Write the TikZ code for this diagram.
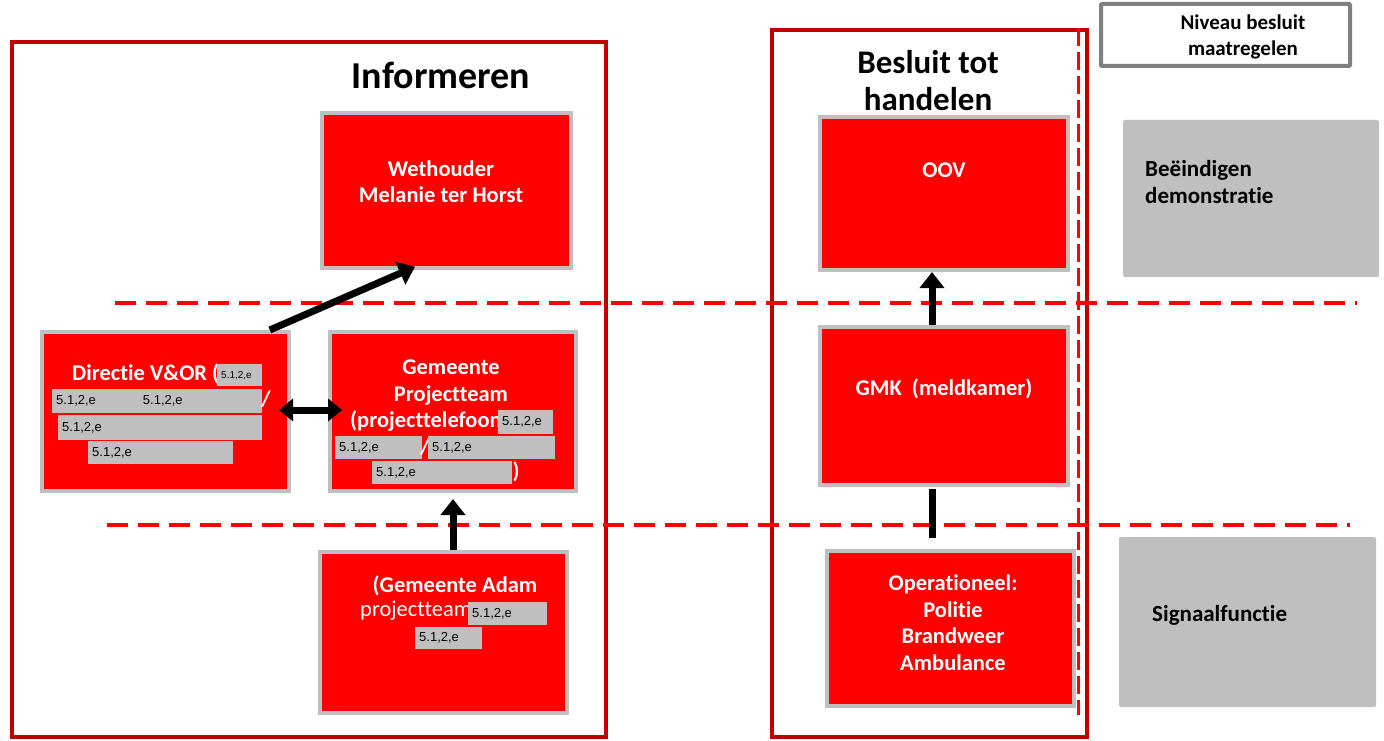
\documentclass[tikz,border=0pt]{standalone}
\usepackage{fontspec}
\setmainfont{Carlito}[Ligatures=NoCommon]
\newfontfamily\redactfont{Liberation Sans}
\usepackage{xcolor}
\usetikzlibrary{arrows.meta}

\definecolor{framered}{HTML}{C00000}
\definecolor{boxred}{HTML}{FF0000}
\definecolor{boxgray}{HTML}{BFBFBF}
\definecolor{levelgray}{HTML}{808080}

\tikzset{
  frame/.style={draw=framered, line width=4pt},
  redbox/.style={draw=boxgray, fill=boxred, line width=4pt, inner sep=0pt},
  sidebox/.style={fill=boxgray, rounded corners=2pt, inner sep=0pt},
  boxtext/.style={text=white, font=\bfseries\fontsize{22.5}{26.5}\selectfont, align=center, inner sep=0pt},
  titletext/.style={text=black, font=\bfseries\fontsize{33}{37}\selectfont, align=center, inner sep=0pt},
  sidetext/.style={text=black, font=\bfseries\fontsize{23}{27}\selectfont, align=left, inner sep=0pt},
  redact/.style={fill=boxgray, anchor=north west, inner xsep=4pt, inner ysep=0pt,
                 font=\redactfont\fontsize{13}{13}\selectfont, align=left},
  level/.style={draw=red, line width=4pt, dash pattern=on 21pt off 10pt},
  bigarrow/.style={line width=7pt, -{Triangle[length=16pt,width=24pt]}},
  bothways/.style={line width=7pt, {Triangle[length=14pt,width=22pt]}-{Triangle[length=14pt,width=22pt]}},
}

\begin{document}
\begin{tikzpicture}[x=1pt, y=-1pt]
  \useasboundingbox (0,0) rectangle (1384,741);

  % === Frames ===
  \draw[frame] (12,42) rectangle (606,737);
  \draw[frame] (772,30) rectangle (1087,737);
  \node[titletext, font=\bfseries\fontsize{38}{42}\selectfont] (inform) at (441,75) {Informeren};
  \node[titletext] (besluit) at (928,81) {Besluit tot\\handelen};

  % === Level lines ===
  \draw[level] (115,303) -- (1357,303);
  \draw[level] (107,525) -- (1350,525);
  \draw[draw=red, line width=3pt, dash pattern=on 18pt off 6pt] (1078,28) -- (1078,715);

  % === Right column (legend) ===
  \node[draw=levelgray, fill=white, line width=4pt, rounded corners=1pt,
        minimum width=249pt, minimum height=62pt] (niveau) at (1225.5,35) {};
  \node[sidetext, align=center, font=\bfseries\fontsize{21}{26}\selectfont] (niveautext) at (1243,37) {Niveau besluit\\maatregelen};
  \node[sidebox, minimum width=256pt, minimum height=157pt] (stop) at (1251,198.5) {};
  \node[sidetext, anchor=west] (stoptext) at (1145,182) {Beëindigen\\demonstratie};
  \node[sidebox, minimum width=257pt, minimum height=170pt] (signal) at (1247.5,622) {};
  \node[sidetext, anchor=west] (signaltext) at (1152,615) {Signaalfunctie};

  % === Informeren column ===
  \node[redbox, minimum width=249pt, minimum height=155pt] (wet) at (446.5,190.5) {};
  \node[boxtext] (wettext) at (441,181.5) {Wethouder\\Melanie ter Horst};

  \node[redbox, minimum width=247pt, minimum height=159pt] (dir) at (165.5,411.5) {};
  \node[boxtext, anchor=west] (dirtext) at (72,374) {Directie V\&OR (};
  \node[redact, minimum width=45pt, minimum height=22pt, text width=37pt,
        font=\redactfont\fontsize{10}{10}\selectfont] (r1) at (217,364) {5.1,2,e};
  \node[redact, minimum width=210pt, minimum height=24pt, text width=202pt] (r2) at (52,389) {5.1,2,e\hspace*{47pt}5.1,2,e};
  \node[boxtext] (slash1) at (266,399) {/};
  \node[redact, minimum width=204pt, minimum height=25pt, text width=196pt] (r3) at (58,415) {5.1,2,e};
  \node[redact, minimum width=145pt, minimum height=23pt, text width=137pt] (r4) at (88,441) {5.1,2,e};

  \node[redbox, minimum width=246pt, minimum height=159pt] (proj) at (453,411.5) {};
  \node[boxtext] (projtext) at (451,382.5) {Gemeente\\Projectteam};
  \node[boxtext, anchor=west] (phone) at (350,421) {(projecttelefoon};
  \node[redact, minimum width=55pt, minimum height=24pt, text width=47pt] (r5) at (498,410) {5.1,2,e};
  \node[redact, minimum width=87pt, minimum height=23pt, text width=79pt] (r6) at (335,436) {5.1,2,e};
  \node[boxtext] (slash2) at (425,447) {/};
  \node[redact, minimum width=127pt, minimum height=23pt, text width=119pt] (r7) at (428,436) {5.1,2,e};
  \node[redact, minimum width=140pt, minimum height=23pt, text width=132pt] (r8) at (372,461) {5.1,2,e};
  \node[boxtext] (close) at (516,472) {)};

  \node[redbox, minimum width=247pt, minimum height=161pt] (adam) at (443.5,632.5) {};
  \node[boxtext] (adamtext) at (455,586) {(Gemeente Adam};
  \node[boxtext, anchor=west, font=\fontsize{22.5}{26.5}\selectfont] (team) at (360,611) {projectteam};
  \node[redact, minimum width=79pt, minimum height=23pt, text width=71pt] (r9) at (468,602) {5.1,2,e};
  \node[redact, minimum width=67pt, minimum height=22pt, text width=59pt] (r10) at (415,627) {5.1,2,e};

  % === Besluit column ===
  \node[redbox, minimum width=248pt, minimum height=153pt] (oov) at (944,193.5) {};
  \node[boxtext] (oovtext) at (944,170) {OOV};
  \node[redbox, minimum width=248pt, minimum height=158pt] (gmk) at (944,406) {};
  \node[boxtext] (gmktext) at (944,389) {GMK\ \ (meldkamer)};
  \node[redbox, minimum width=247pt, minimum height=155pt] (ops) at (950.5,628.5) {};
  \node[boxtext] (opstext) at (953,622.5) {Operationeel:\\Politie\\Brandweer\\Ambulance};

  % === Connectors ===
  \draw[bigarrow, shorten >=-8pt] (dir.38) -- (wet.244);
  \draw[bothways, shorten <=-12pt, shorten >=-14pt] (dir.east |- 0,410) -- (proj.west |- 0,410);
  \draw[bigarrow, shorten >=6pt] (adam.north -| proj.south) -- (proj.south);
  \draw[bigarrow] ([xshift=-12pt]gmk.north) -- ([xshift=-12pt]oov.south);
  \draw[line width=7pt, shorten <=2pt, shorten >=11pt] ([xshift=-12pt]gmk.south) -- ([xshift=-12pt]ops.north -| gmk.south);

\end{tikzpicture}
\end{document}
